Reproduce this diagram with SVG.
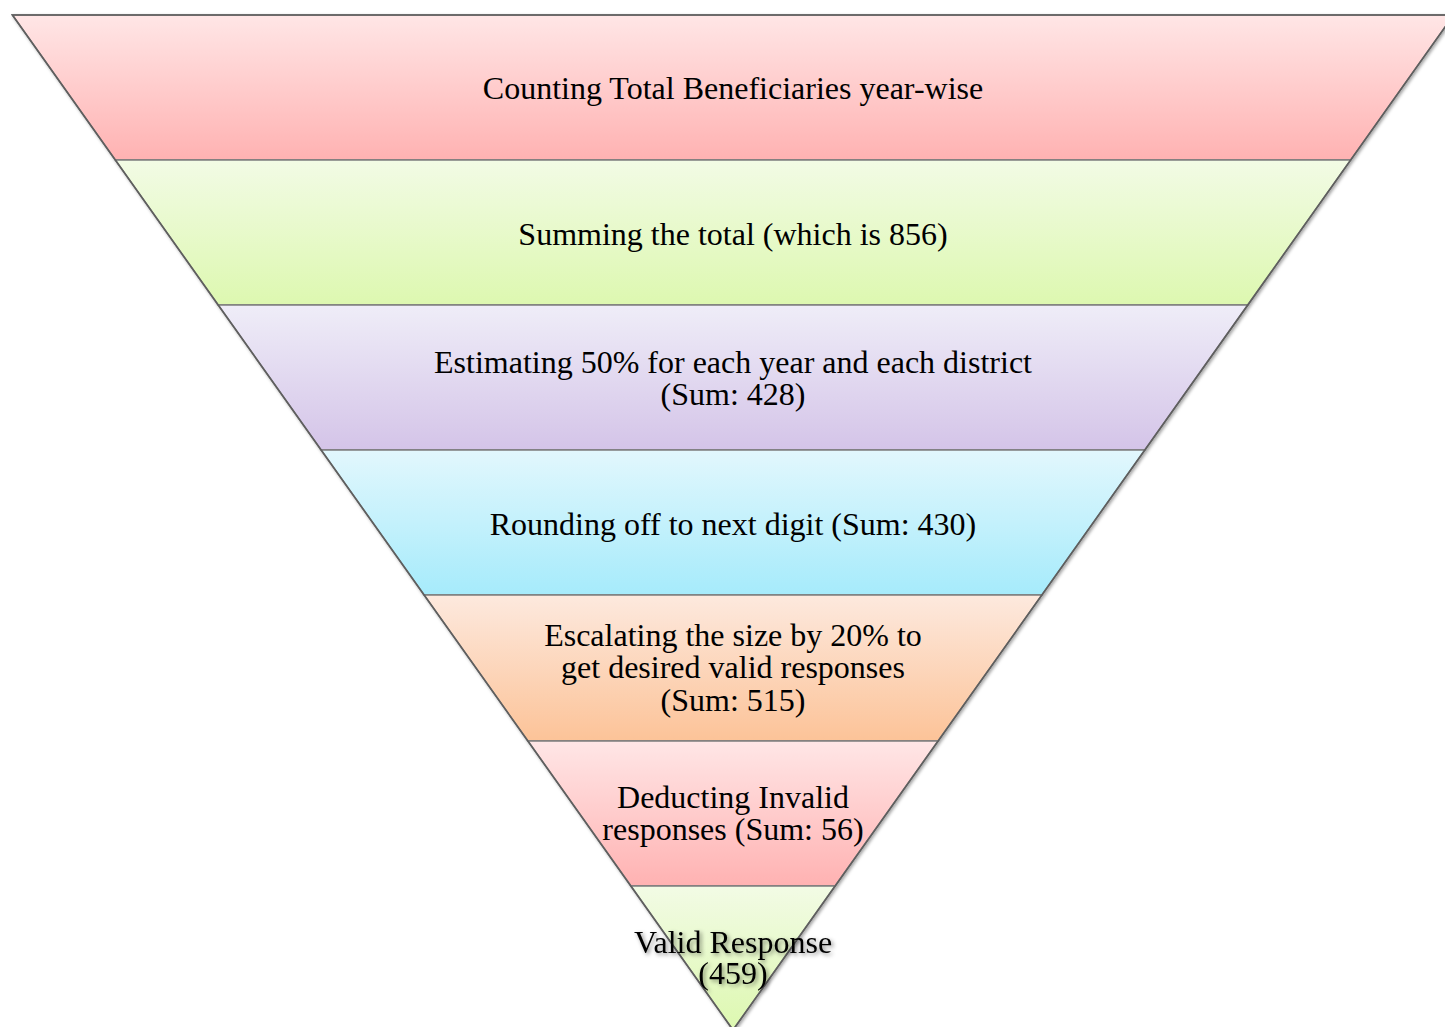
<svg xmlns="http://www.w3.org/2000/svg" width="1445" height="1027" viewBox="0 0 1445 1027">
<style>
.t{font-family:"Liberation Serif","Times New Roman",serif;font-size:32px;fill:#000;text-anchor:middle}
.band{stroke:#7d7d7d;stroke-width:1.5}
.edge{fill:none;stroke:#5e5e5e;stroke-width:1.6}
</style>
<defs>
<linearGradient id="gPink" x1="0" y1="0" x2="0" y2="1"><stop offset="0" stop-color="#ffe6e6"/><stop offset="1" stop-color="#ffb2b2"/></linearGradient>
<linearGradient id="gGreen" x1="0" y1="0" x2="0" y2="1"><stop offset="0" stop-color="#f2fbe5"/><stop offset="1" stop-color="#ddf8b0"/></linearGradient>
<linearGradient id="gPurple" x1="0" y1="0" x2="0" y2="1"><stop offset="0" stop-color="#efedf8"/><stop offset="1" stop-color="#d4c4e8"/></linearGradient>
<linearGradient id="gCyan" x1="0" y1="0" x2="0" y2="1"><stop offset="0" stop-color="#e2f7fd"/><stop offset="1" stop-color="#a6ebfb"/></linearGradient>
<linearGradient id="gOrange" x1="0" y1="0" x2="0" y2="1"><stop offset="0" stop-color="#fde9de"/><stop offset="1" stop-color="#fcc398"/></linearGradient>
<filter id="sh" x="-10%" y="-10%" width="120%" height="120%"><feDropShadow dx="1.5" dy="1.5" stdDeviation="1.5" flood-color="#000" flood-opacity="0.35"/></filter>
<filter id="tsh" x="-10%" y="-20%" width="120%" height="140%"><feDropShadow dx="2" dy="2" stdDeviation="2" flood-color="#000" flood-opacity="0.45"/></filter>
</defs>
<g id="funnel" filter="url(#sh)">
<polygon id="band1" class="band" fill="url(#gPink)" points="12.4,15 1453.6,15 1350.7,160 115.3,160"/>
<polygon id="band2" class="band" fill="url(#gGreen)" points="115.3,160 1350.7,160 1248,305 218,305"/>
<polygon id="band3" class="band" fill="url(#gPurple)" points="218,305 1248,305 1145,450 321,450"/>
<polygon id="band4" class="band" fill="url(#gCyan)" points="321,450 1145,450 1042,595 424,595"/>
<polygon id="band5" class="band" fill="url(#gOrange)" points="424,595 1042,595 938,741 528,741"/>
<polygon id="band6" class="band" fill="url(#gPink)" points="528,741 938,741 835,886 631,886"/>
<polygon id="band7" class="band" fill="url(#gGreen)" points="631,886 835,886 733,1030"/>
<polygon class="edge" points="12.4,15 1453.6,15 733,1030"/>
</g>
<g id="connectors"/>
<g id="labels">
<text id="label1" class="t" x="733" y="99">Counting Total Beneficiaries year-wise</text>
<text id="label2" class="t" x="733" y="245">Summing the total (which is 856)</text>
<text id="label3" class="t" x="733" y="373">Estimating 50% for each year and each district<tspan x="733" dy="32">(Sum: 428)</tspan></text>
<text id="label4" class="t" x="733" y="535">Rounding off to next digit (Sum: 430)</text>
<text id="label5" class="t" x="733" y="646">Escalating the size by 20% to<tspan x="733" dy="32">get desired valid responses</tspan><tspan x="733" dy="33">(Sum: 515)</tspan></text>
<text id="label6" class="t" x="733" y="808">Deducting Invalid<tspan x="733" dy="32">responses (Sum: 56)</tspan></text>
<text id="label7" class="t" x="733" y="953" filter="url(#tsh)">Valid Response<tspan x="733" dy="31">(459)</tspan></text>
</g>
</svg>
